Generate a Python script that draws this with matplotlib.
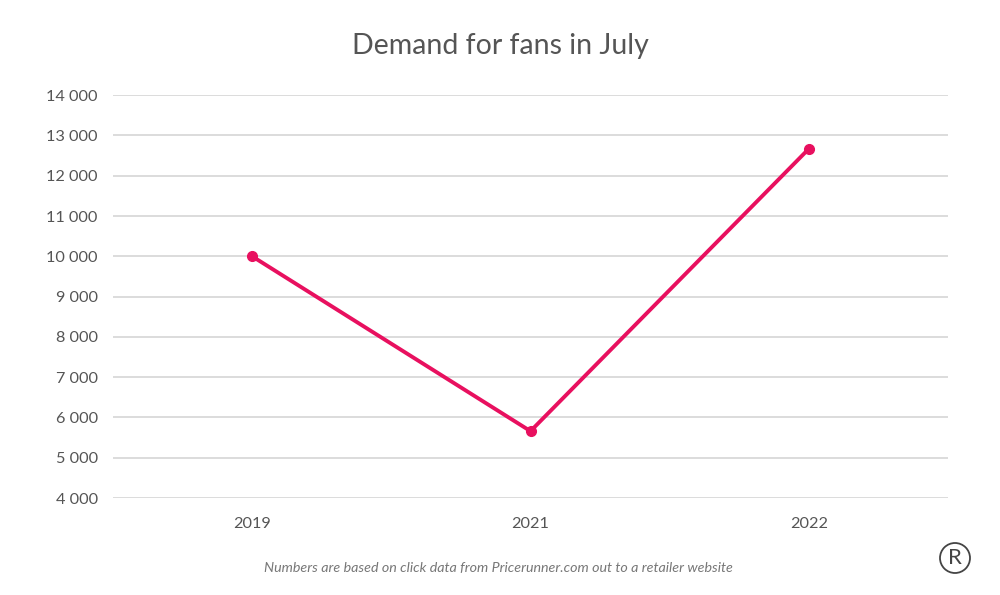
import matplotlib.pyplot as plt
from matplotlib.patches import Circle
from matplotlib.ticker import FuncFormatter

plt.rcParams['font.family'] = ['Lato', 'DejaVu Sans']

years = ['2019', '2021', '2022']
demand = [10000, 5660, 12670]
y_ticks = list(range(4000, 14001, 1000))

fig = plt.figure(figsize=(10, 5.95), dpi=100)
ax = fig.add_axes([0.113, 0.163, 0.835, 0.677])

x = range(len(years))
ax.plot(x, demand, color='#e8105f', linewidth=2.8, marker='o', markersize=7,
        solid_capstyle='round', zorder=3)

ax.set_xlim(-0.5, len(years) - 0.5)
ax.set_ylim(4000, 14000)
ax.set_xticks(list(x))
ax.set_xticklabels(years)
ax.set_yticks(y_ticks)
ax.yaxis.set_major_formatter(FuncFormatter(lambda v, p: f'{int(v):,}'.replace(',', ' ')))
ax.grid(axis='y', color='#d9d9d9', linewidth=1.3, zorder=0)
ax.set_axisbelow(True)
for s in ax.spines.values():
    s.set_visible(False)
ax.tick_params(length=0, labelsize=11.7, labelcolor='#555555')
ax.tick_params(axis='y', pad=11)
ax.tick_params(axis='x', pad=14)
for lbl in ax.get_yticklabels():
    lbl.set_clip_on(False)

fig.text(0.5, 0.923, 'Demand for fans in July', ha='center', va='center',
         fontsize=20.5, color='#555555')
fig.text(0.498, 0.045, 'Numbers are based on click data from Pricerunner.com out to a retailer website',
         ha='center', va='center', fontsize=10.3, style='italic', color='#777777')

# logo
logo = Circle((955, 595 - 558), 15, transform=None, fill=False,
              edgecolor='#444444', linewidth=1.3)
fig.patches.append(logo)
fig.text(0.955, (595 - 558) / 595, 'R', ha='center', va='center',
         fontsize=16, color='#444444')

fig.savefig('out.png', dpi=100)
